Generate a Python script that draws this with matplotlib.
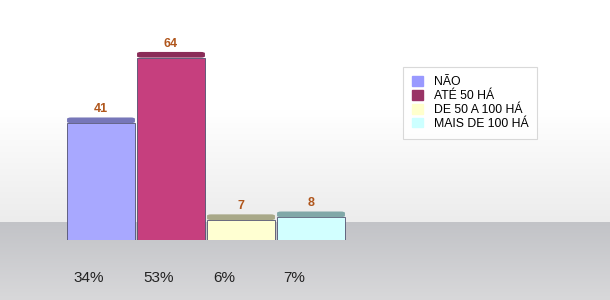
import numpy as np
import matplotlib
matplotlib.use("Agg")
import matplotlib.pyplot as plt
from matplotlib.colors import LinearSegmentedColormap
from matplotlib.patches import FancyBboxPatch

categories = ["NÃO", "ATÉ 50 HÁ", "DE 50 A 100 HÁ", "MAIS DE 100 HÁ"]
counts = [41, 64, 7, 8]
percent_labels = ["34%", "53%", "6%", "7%"]

body_colors = ["#A8A8FF", "#C63F7E", "#FFFFD2", "#D2FFFF"]
top_colors = ["#7676B8", "#8A2C58", "#A8A888", "#80A8A8"]
legend_colors = ["#9999FF", "#993366", "#FFFFCC", "#CCFFFF"]
label_color = "#B0561C"
font = "Liberation Sans"

W, H = 610, 300
fig = plt.figure(figsize=(W / 100, H / 100), dpi=100)

# background: wall gradient above, grey floor below
bg = fig.add_axes([0, 0, 1, 1])
bg.set_xlim(0, W)
bg.set_ylim(H, 0)
bg.axis("off")
wall = LinearSegmentedColormap.from_list("wall", ["#FFFFFF", "#FFFFFF", "#ECECEC"])
floor = LinearSegmentedColormap.from_list("floor", ["#C2C3C7", "#D8D8DA"])
bg.imshow(np.linspace(0, 1, 256)[:, None], cmap=wall, aspect="auto",
          extent=(0, W, 222, 0))
bg.imshow(np.linspace(0, 1, 256)[:, None], cmap=floor, aspect="auto",
          extent=(0, W, H, 222))

# bars
ax = fig.add_axes([66 / W, 0.2, 280 / W, 0.7])
ax.set_xlim(-0.5, 3.5)
ax.set_ylim(0, 73.7)
ax.axis("off")
x = np.arange(len(counts))
width = 0.97
top_depth = 2.0
ax.bar(x, counts, width=width, color=body_colors, edgecolor="#50506E",
       linewidth=0.6, zorder=2)
# slanted top face sitting on each bar
for xi, c, tc in zip(x, counts, top_colors):
    face = FancyBboxPatch((xi - width / 2, c), width, top_depth,
                          boxstyle="round,pad=0,rounding_size=0.06",
                          mutation_aspect=8, facecolor=tc, edgecolor="none",
                          zorder=3)
    ax.add_patch(face)

for xi, c, p in zip(x, counts, percent_labels):
    ax.annotate(str(c), (xi, c + top_depth), xytext=(0, 1.5),
                textcoords="offset points", ha="center", va="bottom",
                fontsize=9, fontweight="bold", color=label_color, family=font)
    ax.text(xi - 0.4, -13.5, p, ha="left", va="center", fontsize=11,
            color="#222222", family=font, clip_on=False)

# legend
handles = [plt.Rectangle((0, 0), 1, 1, color=c) for c in legend_colors]
leg = fig.legend(handles, categories, loc="upper left",
                 bbox_to_anchor=(403 / W, 1 - 67 / H), frameon=True,
                 handlelength=0.85, handleheight=0.85,
                 handletextpad=0.9, labelspacing=0.14, borderpad=0.75,
                 borderaxespad=0, fancybox=False,
                 prop={"family": font, "size": 8.8})
leg.get_frame().set_edgecolor("#D0D0D0")
leg.get_frame().set_linewidth(0.8)

fig.savefig("out.png", dpi=100)
